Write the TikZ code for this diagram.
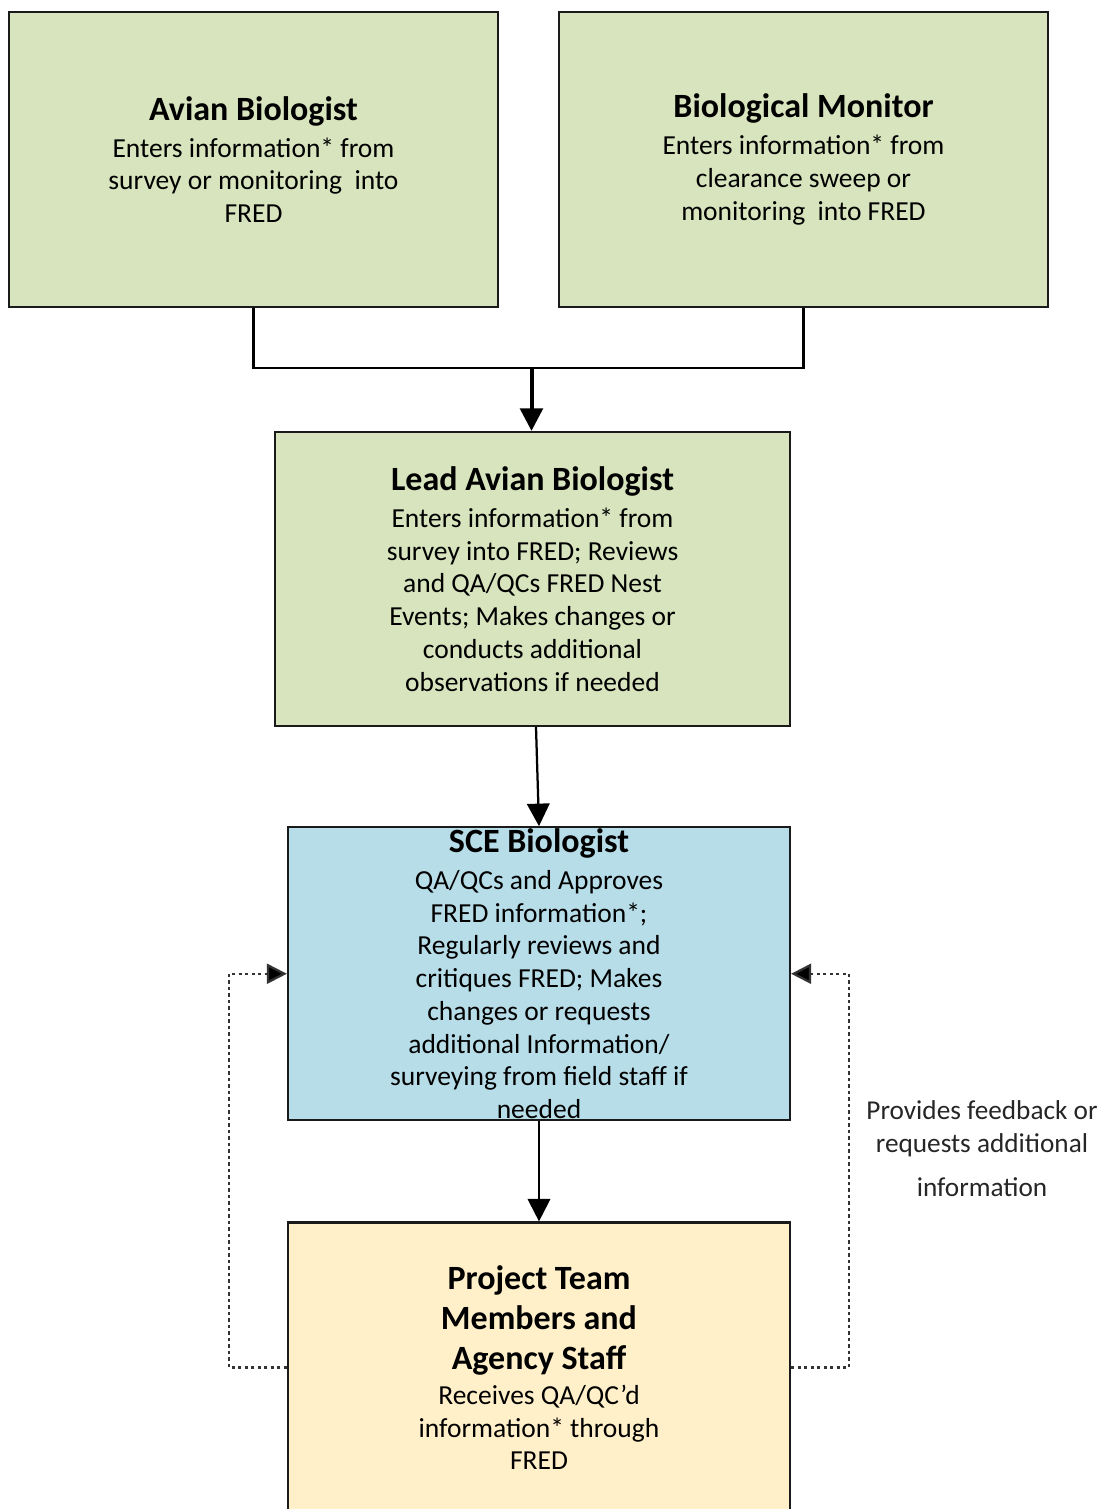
\documentclass[tikz,border=0pt]{standalone}
\usepackage{fontspec}
\setmainfont{Carlito}
\usepackage{tikz}
\usetikzlibrary{arrows.meta, positioning}
\definecolor{boxgreen}{HTML}{D7E4BD}
\definecolor{boxblue}{HTML}{B7DDE8}
\definecolor{boxyellow}{HTML}{FFF0CA}
\definecolor{lineblack}{HTML}{1A1A1A}
\tikzset{
rolebox/.style={
draw=lineblack,
line width=0.9pt,
align=center,
inner sep=2pt,
font=\fontsize{11}{13.1}\selectfont
},
fieldbox/.style={
rolebox,
fill=boxgreen,
minimum width=195.6pt,
minimum height=118pt
},
leadbox/.style={
rolebox,
fill=boxgreen,
minimum width=206pt,
minimum height=117.6pt
},
reviewbox/.style={
rolebox,
fill=boxblue,
inner ysep=0pt,
minimum width=200.8pt,
minimum height=117.2pt
},
teambox/.style={
rolebox,
fill=boxyellow,
minimum width=200.8pt,
minimum height=116pt
},
notelabel/.style={
align=center,
font=\fontsize{10.9}{12.9}\selectfont,
text=black!85
},
flow/.style={
-{Triangle[length=9pt,width=9pt]},
line width=0.9pt,
draw=black
},
mergeflow/.style={
-{Triangle[length=9pt,width=9pt]},
line width=1.6pt,
draw=black
},
feedback/.style={
-{Triangle[length=8pt,width=8pt,fill=black]},
line width=0.9pt,
dash pattern=on 1.3pt off 1.3pt,
draw=black!80
}
}
\newcommand{\roletitle}[1]{{\fontsize{13.6}{16}\selectfont\bfseries #1}}

\begin{document}
\begin{tikzpicture}[x=0.4pt, y=-0.4pt]

\useasboundingbox (0,0) rectangle (1103,1509);

\node[fieldbox] (avian) at (253.5,159.5)
  {\roletitle{Avian Biologist}\\[1.6pt]
   Enters information* from\\
   survey or monitoring~ into\\
   FRED};
\node[fieldbox] (monitor) at (803.5,159.5)
  {\roletitle{Biological Monitor}\\[1.6pt]
   Enters information* from\\
   clearance sweep or\\
   monitoring~ into FRED};

\node[leadbox] (lead) at (532.5,579)
  {\roletitle{Lead Avian Biologist}\\[1.6pt]
   Enters information* from\\
   survey into FRED; Reviews\\
   and QA/QCs FRED Nest\\
   Events; Makes changes or\\
   conducts additional\\
   observations if needed};

\node[reviewbox, below=39.6pt of lead, xshift=2.6pt] (sce)
  {\roletitle{SCE Biologist}\\[1.6pt]
   QA/QCs and Approves\\
   FRED information*;\\
   Regularly reviews and\\
   critiques FRED; Makes\\
   changes or requests\\
   additional Information/\\
   surveying from field staff if\\
   needed};

\node[teambox, below=40pt of sce] (team)
  {\roletitle{Project Team}\\[2.9pt]
   \roletitle{Members and}\\[2.9pt]
   \roletitle{Agency Staff}\\[1pt]
   Receives QA/QC'd\\
   information* through\\
   FRED};

\node[notelabel] (note) at (982,1149)
  {Provides feedback or\\
   requests additional\\[5pt]
   information};

% field staff into lead
\coordinate (join) at (531.5,368);
\draw[line width=0.9pt] (avian.south) |- (join) -| (monitor.south);
\draw[mergeflow] (join) -- (lead.north -| join);

% review chain
\draw[flow] ([xshift=1.4pt]lead.south) -- (sce.north);
\draw[flow] (sce.south) -- (team.north);

% feedback loops
\draw[feedback] (team.west) -- ++(-58,0) |- (sce.west);
\draw[feedback] (team.east) -- ++(58,0) |- (sce.east);

\end{tikzpicture}
\end{document}
